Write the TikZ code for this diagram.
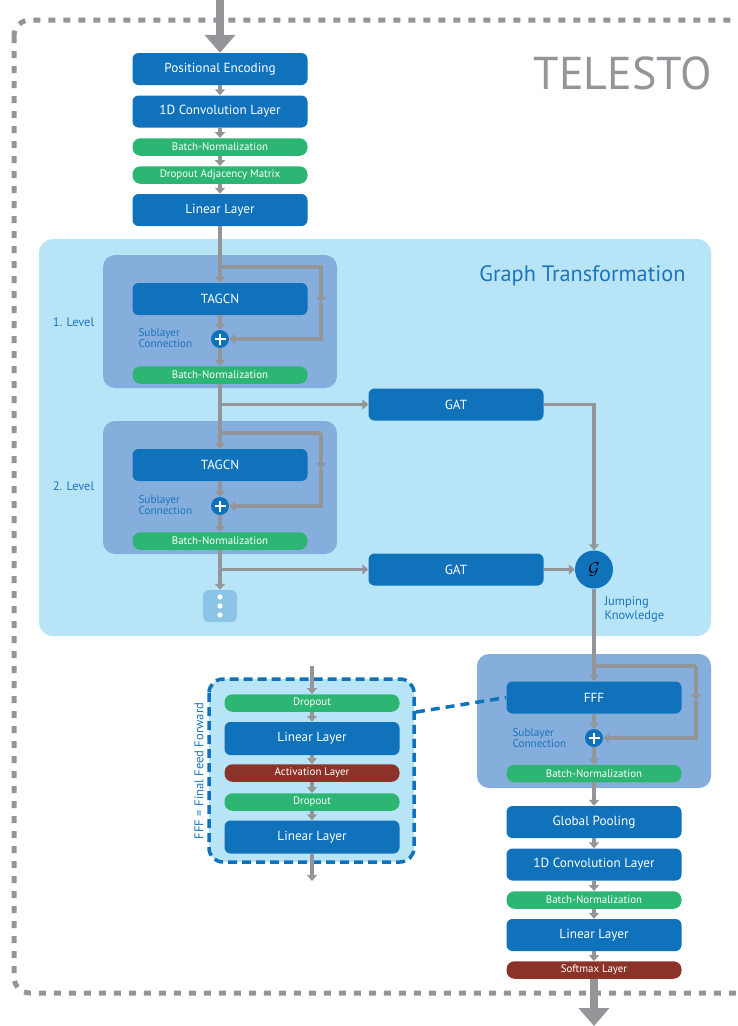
\documentclass[tikz,border=0pt]{standalone}
\usepackage{fontspec}
\setmainfont{PT Sans}
\usetikzlibrary{arrows.meta,calc}
\definecolor{dblue}{HTML}{1072BA}
\definecolor{lgreen}{HTML}{2DB573}
\definecolor{brownr}{HTML}{8B3328}
\definecolor{agray}{HTML}{939598}
\definecolor{midblue}{HTML}{86AEDC}
\definecolor{lblue}{HTML}{B8E4F8}
\definecolor{tblue}{HTML}{1B75BB}
\definecolor{dotblue}{HTML}{8CC4E8}
\tikzset{
  blk/.style={rectangle, rounded corners=6pt, fill=dblue, text=white, minimum width=175pt, minimum height=32pt, inner sep=0pt, font=\fontsize{13.2}{15}\selectfont},
  grn/.style={rectangle, rounded corners=8pt, fill=lgreen, text=white, minimum width=175pt, minimum height=17.5pt, inner sep=0pt, font=\fontsize{10.9}{12}\selectfont},
  brn/.style={grn, fill=brownr},
  arr/.style={draw=agray, line width=3.5pt, -{Triangle[width=10pt,length=6pt]}},
  ln/.style={draw=agray, line width=3.5pt},
  bigarr/.style={draw=agray, line width=8pt, -{Triangle[width=30pt,length=18pt]}},
  plusc/.style={circle, fill=dblue, minimum size=18pt, inner sep=0pt},
  lbl/.style={text=tblue, font=\fontsize{11.2}{13}\selectfont, align=left, anchor=west},
  levelbox/.style={fill=midblue, rounded corners=12pt},
}
\newcommand{\plussign}[1]{\draw[white, line width=1.8pt] ($(#1)+(-5.5,0)$) -- ($(#1)+(5.5,0)$) ($(#1)+(0,-5.5)$) -- ($(#1)+(0,5.5)$);}
\begin{document}
\begin{tikzpicture}[x=1pt,y=-1pt]
\useasboundingbox (0,0) rectangle (738,1026);
% outer dashed frame
\draw[agray, line width=5pt, dash pattern=on 7pt off 8pt, rounded corners=16pt] (14,20) rectangle (760,993);
\node[text=agray, font=\fontsize{46}{50}\selectfont, anchor=east] (title) at (715,73) {TELESTO};

% graph transformation background
\fill[lblue, rounded corners=14pt] (39,239) rectangle (711,636);
\node[text=tblue, font=\fontsize{22.3}{25}\selectfont, anchor=east] (gt) at (689,276) {Graph Transformation};
\fill[levelbox] (103,255) rectangle (337,388);
\fill[levelbox] (103,421) rectangle (337,554);
\fill[levelbox] (477,654) rectangle (711,788);

% top column
\node[blk] (pe) at (220,69) {Positional Encoding};
\node[blk] (c1) at (220,111.5) {1D Convolution Layer};
\node[grn] (bn0) at (220,147) {Batch-Normalization};
\node[grn] (dam) at (220,175) {Dropout Adjacency Matrix};
\node[blk] (lin0) at (220,210) {Linear Layer};
\coordinate (topin) at (220,0);
\draw[bigarr] (topin) -- (pe.north);
\draw[arr] (pe) -- (c1);
\draw[arr] (c1) -- (bn0);
\draw[arr] (bn0) -- (dam);
\draw[arr] (dam) -- (lin0);

% level 1
\node[text=tblue, font=\fontsize{12.4}{14}\selectfont] (lv1) at (73.5,322) {1. Level};
\node[blk] (tg1) at (220,299) {TAGCN};
\node[plusc] (p1) at (220,339) {};
\plussign{p1}
\node[lbl] (sc1) at (135,338.5) {Sublayer\\[-2pt]Connection};
\node[grn] (bn1) at (220,375) {Batch-Normalization};
\coordinate (s1a) at (220,267);
\coordinate (s1b) at (321,267);
\coordinate (s1m) at (321,303);
\coordinate (s1c) at (321,339);
\draw[arr] (lin0) -- (tg1);
\draw[ln] (s1a) -- (s1b) -- ($(s1m)+(0,-2)$);
\draw[arr] (s1b) -- (s1m);
\draw[arr] (s1m) -- (s1c) -- (p1);
\draw[arr] (tg1) -- (p1);
\draw[arr] (p1) -- (bn1);

% level 2
\node[text=tblue, font=\fontsize{12.4}{14}\selectfont] (lv2) at (73.5,486) {2. Level};
\node[blk] (tg2) at (220,465) {TAGCN};
\node[plusc] (p2) at (220,506) {};
\plussign{p2}
\node[lbl] (sc2) at (135,505.5) {Sublayer\\[-2pt]Connection};
\node[grn] (bn2) at (220,541) {Batch-Normalization};
\coordinate (s2a) at (220,433);
\coordinate (s2b) at (321,433);
\coordinate (s2m) at (321,469);
\coordinate (s2c) at (321,506);
\draw[arr] (bn1) -- (tg2);
\draw[arr] (s2b) -- (s2m);
\draw[ln] (s2a) -- (s2b);
\draw[arr] (s2m) -- (s2c) -- (p2);
\draw[arr] (tg2) -- (p2);
\draw[arr] (p2) -- (bn2);

% GATs
\node[blk] (gat1) at (456,404.5) {GAT};
\node[blk] (gat2) at (456,569.5) {GAT};
\coordinate (b1) at (220,404.5);
\coordinate (b2) at (220,569.5);
\draw[arr] (b1) -- (gat1);
\draw[arr] (b2) -- (gat2);

% dots
\node[rectangle, rounded corners=6pt, fill=dotblue, minimum width=34pt, minimum height=32pt] (dots) at (220,606) {};
\foreach \dy in {-9,0,9} \fill[white] ($(dots.center)+(0,\dy)$) circle (2.6pt);
\draw[arr] (bn2) -- (dots);

% jumping knowledge
\node[circle, fill=dblue, minimum size=38pt, inner sep=0pt, font=\fontsize{17}{18}\selectfont] (jk) at (594,569.5) {$\mathcal{G}$};
\coordinate (g1c) at (594,404.5);
\draw[arr] (gat1) -- (g1c) -- (jk);
\draw[arr] (gat2) -- (jk);
\node[lbl, font=\fontsize{12.5}{15}\selectfont] (jkl) at (601,609) {Jumping\\[-1pt]Knowledge};

% FFF block
\node[blk] (fff) at (594,697.5) {FFF};
\node[plusc] (p3) at (594,738) {};
\plussign{p3}
\node[lbl] (sc3) at (509,738) {Sublayer\\[-2pt]Connection};
\node[grn] (bn3) at (594,773.5) {Batch-Normalization};
\coordinate (s3a) at (594,666);
\coordinate (s3b) at (696,666);
\coordinate (s3m) at (696,700);
\coordinate (s3c) at (696,738);
\draw[arr] (jk) -- (fff);
\draw[ln] (s3a) -- (s3b);
\draw[arr] (s3b) -- (s3m);
\draw[arr] (s3m) -- (s3c) -- (p3);
\draw[arr] (fff) -- (p3);
\draw[arr] (p3) -- (bn3);

% bottom column
\node[blk] (gp) at (594,822) {Global Pooling};
\node[blk] (c2) at (594,864.5) {1D Convolution Layer};
\node[grn] (bn4) at (594,900) {Batch-Normalization};
\node[blk] (lin2) at (594,935) {Linear Layer};
\node[brn] (sm) at (594,970) {Softmax Layer};
\coordinate (botout) at (594,1026);
\draw[arr] (bn3) -- (gp);
\draw[arr] (gp) -- (c2);
\draw[arr] (c2) -- (bn4);
\draw[arr] (bn4) -- (lin2);
\draw[arr] (lin2) -- (sm);
\draw[bigarr] (sm) -- (botout);

% FFF detail
\draw[dblue, line width=3.5pt, dash pattern=on 9pt off 5pt, fill=lblue, rounded corners=14pt] (209,679) rectangle (414,862);
\node[text=tblue, font=\fontsize{12.6}{14}\selectfont, rotate=90] (fffl) at (199,771) {FFF = Final Feed Forward};
\node[grn] (do1) at (312,703) {Dropout};
\node[blk, minimum height=33pt] (ll1) at (312,738.5) {Linear Layer};
\node[brn] (act) at (312,773) {Activation Layer};
\node[grn] (do2) at (312,802) {Dropout};
\node[blk, minimum height=33pt] (ll2) at (312,837) {Linear Layer};
\coordinate (fin) at (312,666);
\coordinate (fout) at (312,881);
\draw[arr] (fin) -- (do1);
\draw[arr] (do1) -- (ll1);
\draw[arr] (ll1) -- (act);
\draw[arr] (act) -- (do2);
\draw[arr] (do2) -- (ll2);
\draw[arr] (ll2) -- (fout);
\coordinate (dl) at (416,712);
\draw[dblue, line width=3.5pt, dash pattern=on 9pt off 6pt] (dl) -- (fff.west);
\end{tikzpicture}
\end{document}
